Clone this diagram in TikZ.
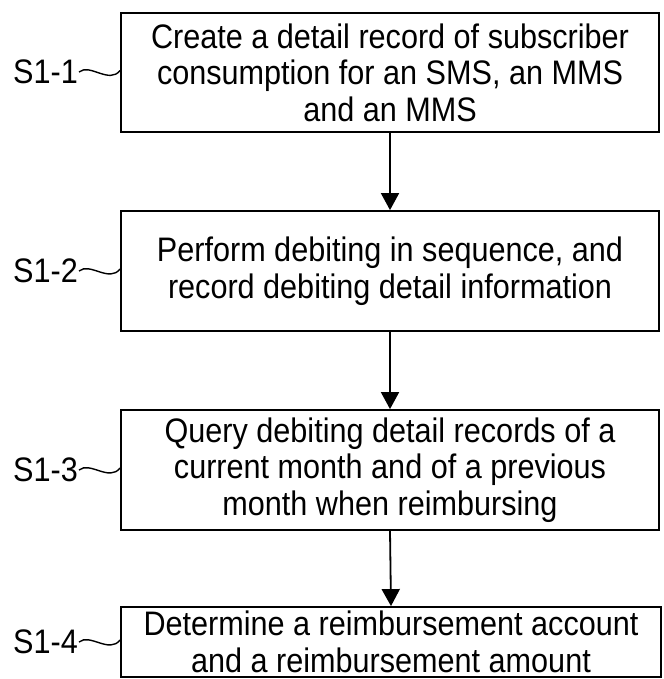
\documentclass[tikz,border=0pt]{standalone}
\usepackage{fontspec}
\setmainfont[FakeStretch=0.9]{Liberation Sans}
\usetikzlibrary{arrows.meta}
\begin{document}
\begin{tikzpicture}[x=1pt,y=1pt,
  stepbox/.style={draw,line width=1.8pt,align=center,inner sep=0pt,
    font=\fontsize{34}{36.5}\selectfont},
  steplabel/.style={anchor=east,inner sep=0pt,font=\fontsize{34}{36}\selectfont},
  flow/.style={line width=1.8pt,-{Triangle[width=18pt,length=17pt]}},
  wave/.style={line width=1.4pt}]
\useasboundingbox (0,0) rectangle (663,-679);
\node[stepbox,minimum width=538pt,minimum height=119pt] (b1) at (390,-72.5)
  {Create a detail record of subscriber\\consumption for an SMS, an MMS\\and an MMS};
\node[stepbox,minimum width=538pt,minimum height=120pt] (b2) at (390,-271)
  {Perform debiting in sequence, and\\record debiting detail information};
\node[stepbox,minimum width=538pt,minimum height=120pt] (b3) at (390,-470)
  {Query debiting detail records of a\\current month and of a previous\\month when reimbursing};
\node[stepbox,minimum width=540pt,minimum height=70pt] (b4) at (391,-642)
  {Determine a reimbursement account\\and a reimbursement amount};
\node[steplabel] (l1) at (78,-72) {S1-1};
\node[steplabel] (l2) at (78,-271) {S1-2};
\node[steplabel] (l3) at (78,-470) {S1-3};
\node[steplabel] (l4) at (78,-642) {S1-4};
\foreach \i in {1,2,3,4}{
  \draw[wave] ([xshift=1pt]l\i.east) .. controls +(11,9) and +(-11,-14) .. ([yshift=2pt]b\i.west);
}
\draw[flow] (b1.south) -- (b2.north);
\draw[flow] (b2.south) -- (b3.north);
\draw[flow] (b3.south) -- (b4.north);
\end{tikzpicture}
\end{document}
